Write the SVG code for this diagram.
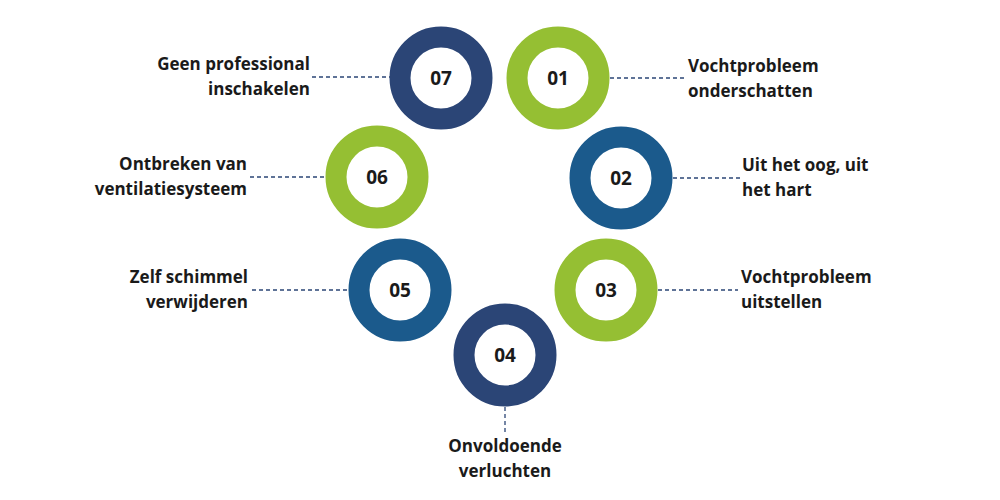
<svg xmlns="http://www.w3.org/2000/svg" width="1000" height="500" viewBox="0 0 1000 500">
<style>
.r{fill:none;stroke-width:21}
.n{fill:#2b4576}.g{fill:#95bf33}.b{fill:#1b5a8c}
.s{stroke:#2b4576;}.sg{stroke:#95bf33}.sb{stroke:#1b5a8c}
.num{font-family:"Open Sans",sans-serif;font-weight:700;font-size:19px;fill:#1a1a1a;text-anchor:middle}
.t{font-family:"Open Sans",sans-serif;font-weight:700;font-size:17px;fill:#1a1a1a}
.c{stroke:#2b4576;stroke-width:1.3;stroke-dasharray:4 3;fill:none}
</style>
<rect width="1000" height="500" fill="#fff"/>
<g id="connectors">
<line class="c" x1="312" y1="77" x2="390" y2="77"/>
<line class="c" x1="610" y1="78" x2="686" y2="78"/>
<line class="c" x1="250" y1="177" x2="325" y2="177"/>
<line class="c" x1="673" y1="178" x2="740" y2="178"/>
<line class="c" x1="252" y1="290" x2="348" y2="290"/>
<line class="c" x1="658" y1="290" x2="738" y2="290"/>
<line class="c" x1="505" y1="407" x2="505" y2="435"/>
</g>
<g id="n07"><circle class="r s" cx="441" cy="78" r="41"/><text class="num" x="441" y="85">07</text>
<text class="t" text-anchor="end" x="310" y="70">Geen professional</text><text class="t" text-anchor="end" x="310" y="95">inschakelen</text></g>
<g id="n01"><circle class="r sg" cx="558" cy="78" r="41"/><text class="num" x="558" y="85">01</text>
<text class="t" x="688" y="72">Vochtprobleem</text><text class="t" x="688" y="97">onderschatten</text></g>
<g id="n02"><circle class="r sb" cx="621" cy="178" r="41"/><text class="num" x="621" y="185">02</text>
<text class="t" x="742" y="171">Uit het oog, uit</text><text class="t" x="742" y="196">het hart</text></g>
<g id="n06"><circle class="r sg" cx="377" cy="177" r="41"/><text class="num" x="377" y="184">06</text>
<text class="t" text-anchor="end" x="247" y="170">Ontbreken van</text><text class="t" text-anchor="end" x="247" y="195">ventilatiesysteem</text></g>
<g id="n05"><circle class="r sb" cx="400" cy="290" r="41"/><text class="num" x="400" y="297">05</text>
<text class="t" text-anchor="end" x="248" y="283">Zelf schimmel</text><text class="t" text-anchor="end" x="248" y="308">verwijderen</text></g>
<g id="n03"><circle class="r sg" cx="606" cy="290" r="41"/><text class="num" x="606" y="297">03</text>
<text class="t" x="741" y="283">Vochtprobleem</text><text class="t" x="741" y="308">uitstellen</text></g>
<g id="n04"><circle class="r s" cx="505" cy="355" r="41"/><text class="num" x="505" y="362">04</text>
<text class="t" text-anchor="middle" x="505" y="452">Onvoldoende</text><text class="t" text-anchor="middle" x="505" y="477">verluchten</text></g>
</svg>
